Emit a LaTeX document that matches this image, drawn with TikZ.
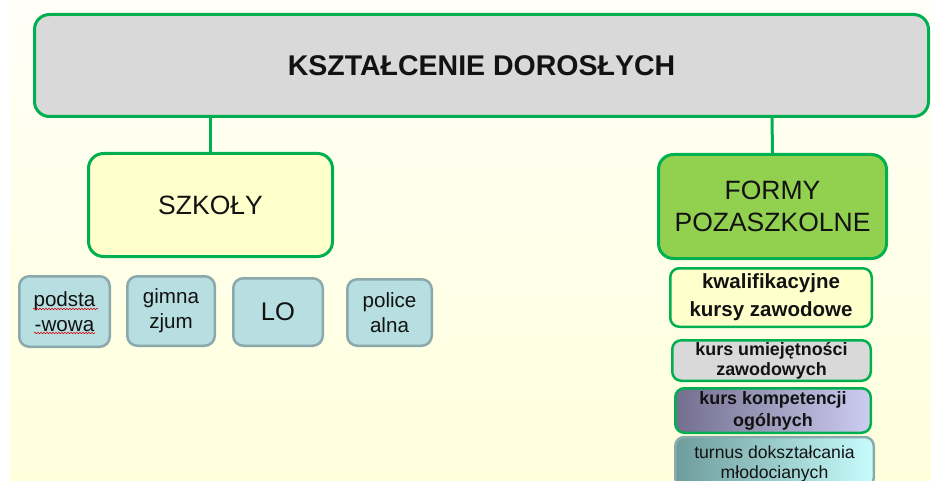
\documentclass[tikz,border=0pt]{standalone}
\usepackage{fontspec}
\setmainfont{Liberation Sans}
\usetikzlibrary{decorations.pathmorphing}
\definecolor{grn}{HTML}{00B050}
\definecolor{greyfill}{HTML}{D9D9D9}
\definecolor{paleyel}{HTML}{FFFFCC}
\definecolor{limegrn}{HTML}{92D050}
\definecolor{tealfill}{HTML}{B7DEE0}
\definecolor{tealedge}{HTML}{8BA8AA}
\definecolor{bgtop}{HTML}{FFFFF8}
\definecolor{bgbot}{HTML}{FFFFDC}
\definecolor{kompL}{HTML}{736E8E}
\definecolor{kompR}{HTML}{CDCDF2}
\definecolor{turnL}{HTML}{6E9C9C}
\definecolor{turnR}{HTML}{C8FCFC}
\definecolor{turnE}{HTML}{8AABAB}
\tikzset{
  bigbox/.style={draw=grn, line width=3pt, rounded corners=15pt, align=center, inner sep=0pt, text=black!93},
  subbox/.style={draw=grn, line width=2.5pt, rounded corners=9pt, align=center, inner sep=0pt, text=black!93},
  schoolbox/.style={draw=tealedge, fill=tealfill, line width=2.5pt, rounded corners=10pt, align=center, inner sep=0pt, text=black!93,
    font=\fontsize{20.6}{25}\selectfont},
  link/.style={draw=grn, line width=3pt},
  squig/.style={draw=red!85!black, line width=0.6pt, decorate, decoration={snake, amplitude=0.7pt, segment length=3pt}}
}
\begin{document}
\begin{tikzpicture}[x=1pt, y=-1pt]
\useasboundingbox (0,0) rectangle (931,481);
\clip (0,0) rectangle (931,481);
\fill[white] (0,0) rectangle (931,481);
\fill[top color=bgtop, bottom color=bgbot] (10,0) rectangle (931,481);

\node[bigbox, fill=greyfill, minimum width=894pt, minimum height=102pt,
  font=\fontsize{28.5}{32}\bfseries] (top) at (481.5,65.5) {KSZTAŁCENIE DOROSŁYCH};

\node[bigbox, fill=paleyel, minimum width=244pt, minimum height=103pt,
  font=\fontsize{26.5}{32}\selectfont] (szk) at (210.5,205) {SZKOŁY};

\node[bigbox, fill=limegrn, minimum width=228pt, minimum height=104pt,
  font=\fontsize{26.5}{32}\selectfont] (form) at (772.5,206.5) {FORMY\\POZASZKOLNE};

\draw[link] (szk.north |- top.south) -- (szk.north);
\coordinate (rtop) at (772,118);
\draw[link] (rtop) -- (form.north);

\node[subbox, fill=paleyel, minimum width=201.5pt, minimum height=58.5pt,
  font=\fontsize{20.5}{28}\bfseries] (kwal) at (771,297.5) {kwalifikacyjne\\kursy zawodowe};

\node[subbox, fill=greyfill, minimum width=198.5pt, minimum height=40.5pt,
  font=\fontsize{17.9}{20}\bfseries] (umiej) at (771.5,360.5) {kurs umiejętności\\zawodowych};

\node[subbox, left color=kompL, right color=kompR, minimum width=195.5pt, minimum height=44.5pt,
  font=\fontsize{17.9}{22}\bfseries] (komp) at (773,410.5) {kurs kompetencji\\ogólnych};

\node[subbox, draw=turnE, left color=turnL, right color=turnR, minimum width=198.5pt, minimum height=50pt,
  font=\fontsize{17.6}{20.5}\selectfont, text depth=0pt] (turn) at (774.5,462) {turnus dokształcania\\młodocianych};

\node[schoolbox, minimum width=90.5pt, minimum height=70.5pt] (pods) at (64.5,311.5) {podsta\\-wowa};
\node[schoolbox, minimum width=87.5pt, minimum height=69.5pt] (gimn) at (171,311) {gimna\\zjum};
\node[schoolbox, minimum width=89.5pt, minimum height=67.5pt, font=\fontsize{25.5}{30}\selectfont] (lo) at (278,312) {LO};
\node[schoolbox, minimum width=84.5pt, minimum height=66.5pt] (poli) at (389.5,312.5) {police\\alna};

\coordinate (s1a) at (33,309);
\coordinate (s1b) at (98,309);
\coordinate (s2a) at (34,333);
\coordinate (s2b) at (95,333);
\draw[squig] (s1a) -- (s1b);
\draw[squig] (s2a) -- (s2b);
\end{tikzpicture}
\end{document}
